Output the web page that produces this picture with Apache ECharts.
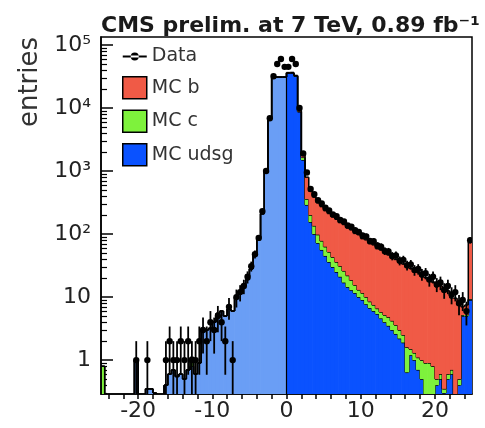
<!DOCTYPE html>
<html><head><meta charset="utf-8">
<script src="https://cdn.jsdelivr.net/npm/echarts@6/dist/echarts.min.js"></script>
<style>html,body{margin:0;padding:0;background:#fff}#c{width:485px;height:428px}</style>
</head><body><div id="c"></div>
<script>
// ---- data (bins of width 0.5 from -25 to 25) ----
const binCenters = [
-24.75,-24.25,-23.75,-23.25,-22.75,-22.25,-21.75,-21.25,-20.75,-20.25,
-19.75,-19.25,-18.75,-18.25,-17.75,-17.25,-16.75,-16.25,-15.75,-15.25,
-14.75,-14.25,-13.75,-13.25,-12.75,-12.25,-11.75,-11.25,-10.75,-10.25,
-9.75,-9.25,-8.75,-8.25,-7.75,-7.25,-6.75,-6.25,-5.75,-5.25,
-4.75,-4.25,-3.75,-3.25,-2.75,-2.25,-1.75,-1.25,-0.75,-0.25,
0.25,0.75,1.25,1.75,2.25,2.75,3.25,3.75,4.25,4.75,
5.25,5.75,6.25,6.75,7.25,7.75,8.25,8.75,9.25,9.75,
10.25,10.75,11.25,11.75,12.25,12.75,13.25,13.75,14.25,14.75,
15.25,15.75,16.25,16.75,17.25,17.75,18.25,18.75,19.25,19.75,
20.25,20.75,21.25,21.75,22.25,22.75,23.25,23.75,24.25,24.75];
const binWidth = 0.5;

const mcUdsg = [
0,0,0,0,0,0,0,0,0,1.0,
0,0,0.35,0.35,0.3,0,0,0.4,0.6,0.7,
0.55,0.6,0.5,0.7,0.8,0.6,0.9,3.0,3.0,3.2,
4.0,5.5,6,5,6.5,6,10,12,15,19,
28,45,85,210,1000,7000,30000,31000,31000,31000,
36000,36000,32000,8700,1500,290,155,100,72,56,
45,36,30,25,21,17,14.4,12.9,11.6,10,
9,7.7,6.7,6,5.4,4.6,4.0,3.5,3.0,2.6,
2.2,1.9,0.64,1.2,1.0,0.7,0.5,0.2,0.1,0.2,
0.4,0.5,0.3,0.5,0.6,0,0.4,5,5,9];

const mcC = [
0.8,0,0,0,0,0,0,0,0,0,
0,0,0,0,0,0,0,0,0,0,
0,0,0,0,0.3,0,0,0,0,0,
0,0,0,0,0,0,0,0,0,0,
0,0,0,0,0,0,0,0,0,0,
200,300,400,200,150,70,45,35,26,22,
18,16,13,11,10,9,7.6,5.6,3.9,3.0,
2.6,2.3,1.8,1.5,1.2,1.2,1.2,1.3,1.2,1.0,
0.8,0.6,0.96,0.3,0.3,0.4,0.5,0.7,0.8,0.6,
0.1,0.1,0.05,0.1,0.1,0.1,0.1,0.2,0.3,0.3];

const mcB = [
0,0,0,0,0,0,0,0,0,0,
0,0,0,0,0,0,0,0,0,0,
0,0,0,0,0,0,0,0,0,0,
0,0,0,0,0,0,0,0,0,0,
0,0,0,0,0,0,0,0,0,0,
300,400,500,400,150,440,280,250,215,195,
172,160,145,136,121,116,103,98,87,85,
73,71,62,60,52,50,44,42,37,36,
32,31,28,27,24,23.5,20,19.5,17,16.5,
14,14.5,12,12,9,9.5,7,1.8,2.2,65.7];

const dataCounts = [
0,0,0,0,0,0,0,0,0,1,
0,0,1,0,0,0,0,1,2,1,
1,2,1,2,1,1,2,3,2,4,
3,5,4,2,7,1,10,12,15,21,
31,48,87,230,1000,6900,32000,50000,60000,45000,
45000,60000,50000,10000,1900,950,520,430,345,305,
262,236,205,193,168,158,137,131,115,108,
95,92,78,77,66,63,54,53,45,46,
38,39,32,33,27,28,23,24,19,21,
16,17,13,15,11,12,8,9,6,80];

const xTickValues = [-24,-22,-20,-18,-16,-14,-12,-10,-8,-6,-4,-2,0,2,4,6,8,10,12,14,16,18,20,22,24];
const xLabelValues = [-20,-10,0,10,20];
const yTickValues = [1,10,100,1000,10000,100000];
const yTickLabels = ['1','10','10²','10³','10⁴','10⁵'];
const seriesNames = ['Data','MC b','MC c','MC udsg'];

// ---- styling ----
const YMIN = 0.29, YMAX = 134000, FLOOR = 0.01;
const COL_UDSG = '#0a52ff', COL_UDSG_NEG = '#6a9ef5', COL_C = '#7ef23c', COL_B = '#f05a46';
const FONT = 'DejaVu Sans';

const yMinorValues = [];
for (let d = -1; d <= 4; d++) for (let k = 2; k <= 9; k++) {
  const v = k * Math.pow(10, d);
  if (v > YMIN && v < YMAX) yMinorValues.push(v);
}

function cum(arrs, i) { let s = 0; arrs.forEach(a => { s += a[i]; }); return s; }

function layer(name, own, below, color, negColor, zeroLine) {
  return {
    name, type: 'custom', clip: true, z: 2,
    itemStyle: { color },
    dimensions: ['x', 'y'], encode: { x: 0, y: 1 },
    data: binCenters.map((c, i) => [c, Math.max(own[i], FLOOR)]),
    renderItem(params, api) {
      const i = params.dataIndex;
      const c = binCenters[i];
      const x0 = c - binWidth / 2, x1 = c + binWidth / 2;
      const lo = cum(below, i), hi = lo + own[i];
      const prevHi = i > 0 ? cum(below, i - 1) + own[i - 1] : 0;
      const children = [];
      const fill = (c < 0 && negColor) ? negColor : color;
      const ln = { stroke: '#000', lineWidth: 1.5 };
      if (own[i] > 0) {
        const a = api.coord([x0, Math.max(lo, FLOOR)]);
        const b = api.coord([x1, hi]);
        children.push({ type: 'rect', shape: { x: a[0] - 0.35, y: b[1], width: b[0] - a[0] + 0.7, height: a[1] - b[1] }, style: { fill } });
      }
      if (hi > 0) {
        const a = api.coord([x0, hi]), b = api.coord([x1, hi]);
        children.push({ type: 'line', shape: { x1: a[0], y1: a[1], x2: b[0], y2: b[1] }, style: ln });
      }
      if (prevHi > 0 || hi > 0) {
        const a = api.coord([x0, Math.max(prevHi, FLOOR)]), b = api.coord([x0, Math.max(hi, FLOOR)]);
        children.push({ type: 'line', shape: { x1: a[0], y1: a[1], x2: b[0], y2: b[1] }, style: ln });
      }
      if (zeroLine && x0 === 0) {
        const a = api.coord([0, FLOOR]), b = api.coord([0, hi]);
        children.push({ type: 'line', shape: { x1: a[0], y1: a[1], x2: b[0], y2: b[1] }, style: { stroke: '#000', lineWidth: 1.2 } });
      }
      return { type: 'group', children };
    }
  };
}

const dataSeries = {
  name: 'Data', type: 'custom', clip: true, z: 5,
  itemStyle: { color: '#000' },
  dimensions: ['x', 'y'], encode: { x: 0, y: 1 },
  data: binCenters.map((c, i) => [c, Math.max(dataCounts[i], FLOOR)]),
  renderItem(params, api) {
    const i = params.dataIndex;
    const n = dataCounts[i];
    if (!(n > 0)) return null;
    const c = binCenters[i];
    const e = Math.sqrt(n);
    const p = api.coord([c, n]);
    const l = api.coord([c - binWidth / 2, n]), r = api.coord([c + binWidth / 2, n]);
    const up = api.coord([c, n + e]), dn = api.coord([c, Math.max(n - e, FLOOR)]);
    const st = { stroke: '#000', lineWidth: 1.8 };
    return { type: 'group', children: [
      { type: 'line', shape: { x1: l[0], y1: l[1], x2: r[0], y2: r[1] }, style: st },
      { type: 'line', shape: { x1: up[0], y1: up[1], x2: dn[0], y2: dn[1] }, style: st },
      { type: 'circle', shape: { cx: p[0], cy: p[1], r: 3.2 }, style: { fill: '#000' } }
    ]};
  }
};

const chart = echarts.init(document.getElementById('c'), null, { renderer: 'canvas' });
chart.setOption({
  animation: false,
  backgroundColor: '#fff',
  title: {
    text: 'CMS prelim. at 7 TeV, 0.89 fb⁻¹',
    left: 96, top: 10,
    textStyle: { fontFamily: FONT, fontWeight: 'bold', fontSize: 22, color: '#1a1a1a' }
  },
  grid: { left: 101, right: 13, top: 37, bottom: 34, show: true, borderColor: '#000', borderWidth: 1.5, backgroundColor: 'transparent' },
  legend: {
    orient: 'vertical', left: 117, top: 42, itemWidth: 24, itemHeight: 22, itemGap: 10,
    textStyle: { fontFamily: FONT, fontSize: 19, color: '#333' },
    data: [
      { name: seriesNames[0], icon: 'path://M0,3L24,3L24,5L0,5Z M8,4A4,4 0 1 0 16,4A4,4 0 1 0 8,4Z', itemStyle: { color: '#000', borderWidth: 0 } },
      { name: seriesNames[1], icon: 'rect', itemStyle: { color: COL_B, borderColor: '#000', borderWidth: 1.5 } },
      { name: seriesNames[2], icon: 'rect', itemStyle: { color: COL_C, borderColor: '#000', borderWidth: 1.5 } },
      { name: seriesNames[3], icon: 'rect', itemStyle: { color: COL_UDSG, borderColor: '#000', borderWidth: 1.5 } }
    ],
    selectedMode: false
  },
  graphic: [{
    type: 'text', x: 30, y: 82, rotation: Math.PI / 2,
    style: { text: 'entries', font: '26px "DejaVu Sans"', fill: '#333', align: 'center', verticalAlign: 'middle' }
  }],
  xAxis: {
    type: 'value', min: -25, max: 25,
    axisLine: { show: true, onZero: false, lineStyle: { color: '#000', width: 1.5 } },
    axisTick: { show: true, customValues: xTickValues, length: 5, lineStyle: { color: '#000', width: 1.5 } },
    axisLabel: { customValues: xLabelValues, fontFamily: FONT, fontSize: 22, color: '#222', margin: 6 },
    splitLine: { show: false }
  },
  yAxis: [{
    type: 'log', logBase: 10, min: YMIN, max: YMAX, position: 'left',
    axisLine: { show: true, onZero: false, lineStyle: { color: '#000', width: 1.5 } },
    axisTick: { show: true, inside: true, customValues: yTickValues, length: 12, lineStyle: { color: '#000', width: 1.5 } },
    axisLabel: {
      customValues: yTickValues, fontFamily: FONT, fontSize: 22, color: '#222', margin: 10,
      formatter: v => { const k = Math.round(Math.log10(v)); return yTickLabels[yTickValues.indexOf(Math.pow(10, k))] || ''; }
    },
    splitLine: { show: false }
  }, {
    type: 'log', logBase: 10, min: YMIN, max: YMAX, position: 'left',
    axisLine: { show: false, onZero: false },
    axisTick: { show: true, inside: true, customValues: yMinorValues, length: 6, lineStyle: { color: '#000', width: 1.2 } },
    axisLabel: { show: false },
    splitLine: { show: false }
  }],
  series: [
    layer('MC udsg', mcUdsg, [], COL_UDSG, COL_UDSG_NEG, true),
    layer('MC c', mcC, [mcUdsg], COL_C, null, false),
    layer('MC b', mcB, [mcUdsg, mcC], COL_B, null, false),
    dataSeries
  ]
});
</script>
</body></html>
